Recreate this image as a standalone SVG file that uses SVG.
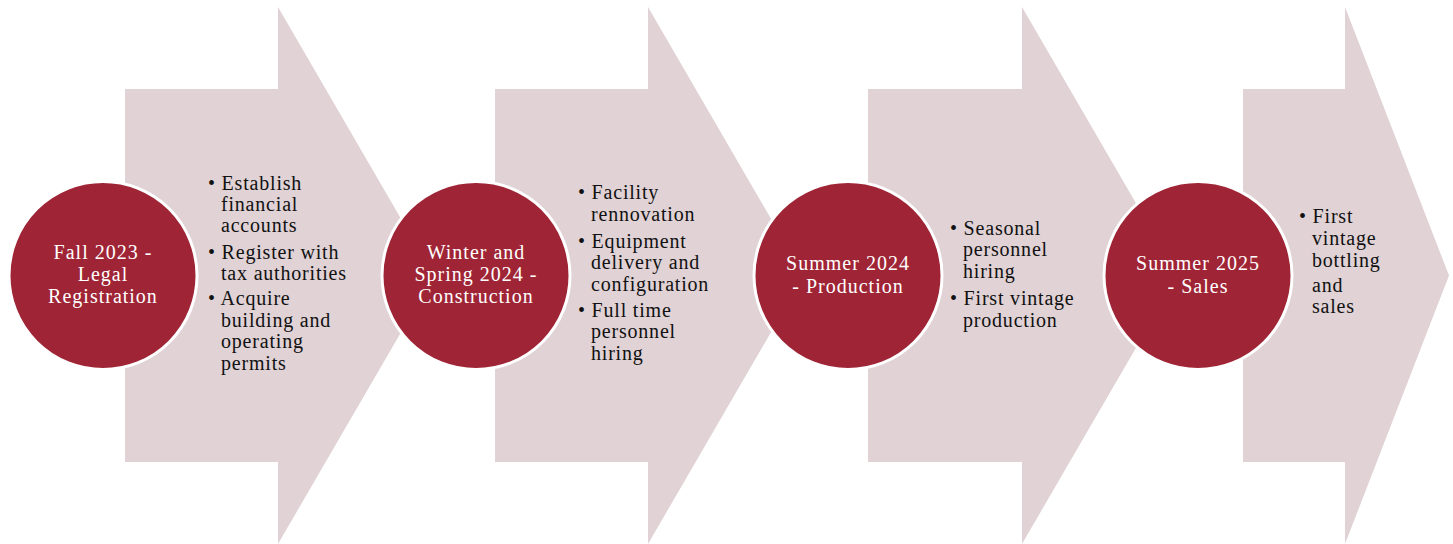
<svg xmlns="http://www.w3.org/2000/svg" width="1453" height="544" viewBox="0 0 1453 544">
<style>
.arrow{fill:#E0D2D5;stroke:none}
.circ{fill:#9F2536;stroke:#FFFFFF;stroke-width:3}
.ct{font-family:"Liberation Serif","Times New Roman",serif;font-size:20px;fill:#FFFFFF;text-anchor:middle;letter-spacing:1px}
.bt{font-family:"Liberation Serif","Times New Roman",serif;font-size:20px;fill:#111111;letter-spacing:0.8px}
</style>
<rect width="1453" height="544" fill="#FFFFFF"/>
<g id="stage1">
<path class="arrow" d="M125,89 H278 V7 L434,275.5 L278,544 V462 H125 Z"/>
<circle class="circ" cx="103" cy="275.5" r="94"/>
<text class="ct"><tspan x="103" y="259">Fall 2023 -</tspan><tspan x="103" y="281">Legal</tspan><tspan x="103" y="303">Registration</tspan></text>
<text class="bt"><tspan x="208" y="190">• Establish</tspan><tspan x="221" y="211">financial</tspan><tspan x="221" y="232">accounts</tspan></text>
<text class="bt"><tspan x="208" y="259">• Register with</tspan><tspan x="221" y="280">tax authorities</tspan></text>
<text class="bt"><tspan x="208" y="305">• Acquire</tspan><tspan x="221" y="327">building and</tspan><tspan x="221" y="348">operating</tspan><tspan x="221" y="370">permits</tspan></text>
</g>
<g id="stage2">
<path class="arrow" d="M495,89 H648 V7 L804,275.5 L648,544 V462 H495 Z"/>
<circle class="circ" cx="476" cy="275.5" r="94"/>
<text class="ct"><tspan x="476" y="259">Winter and</tspan><tspan x="476" y="281">Spring 2024 -</tspan><tspan x="476" y="303">Construction</tspan></text>
<text class="bt"><tspan x="578" y="199">• Facility</tspan><tspan x="591" y="221">rennovation</tspan></text>
<text class="bt"><tspan x="578" y="248">• Equipment</tspan><tspan x="591" y="269">delivery and</tspan><tspan x="591" y="291">configuration</tspan></text>
<text class="bt"><tspan x="578" y="317">• Full  time</tspan><tspan x="591" y="338">personnel</tspan><tspan x="591" y="360">hiring</tspan></text>
</g>
<g id="stage3">
<path class="arrow" d="M868,89 H1022 V7 L1178,275.5 L1022,544 V462 H868 Z"/>
<circle class="circ" cx="848" cy="275.5" r="94"/>
<text class="ct"><tspan x="848" y="270">Summer  2024</tspan><tspan x="848" y="293">- Production</tspan></text>
<text class="bt"><tspan x="950" y="235">• Seasonal</tspan><tspan x="963" y="256">personnel</tspan><tspan x="963" y="278">hiring</tspan></text>
<text class="bt"><tspan x="950" y="305">• First vintage</tspan><tspan x="963" y="327">production</tspan></text>
</g>
<g id="stage4">
<path class="arrow" d="M1243,89 H1345 V7 L1449,275.5 L1345,544 V462 H1243 Z"/>
<circle class="circ" cx="1198" cy="275.5" r="94"/>
<text class="ct"><tspan x="1198" y="270">Summer 2025</tspan><tspan x="1198" y="293">- Sales</tspan></text>
<text class="bt"><tspan x="1299" y="223">• First</tspan><tspan x="1312" y="245">vintage</tspan><tspan x="1312" y="267">bottling</tspan><tspan x="1312" y="292">and</tspan><tspan x="1312" y="313">sales</tspan></text>
</g>
<g id="connectors"></g>
</svg>
